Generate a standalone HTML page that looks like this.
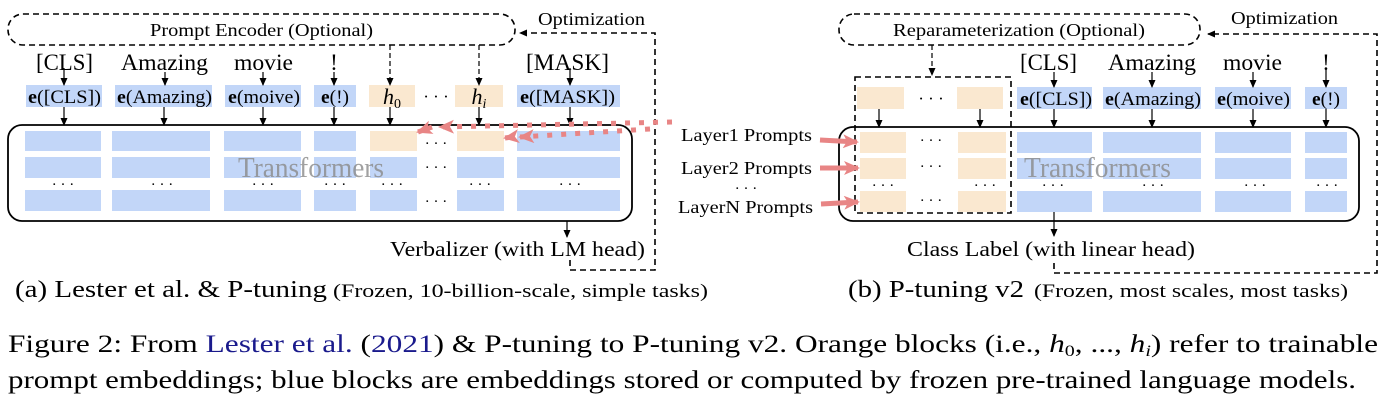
<!DOCTYPE html>
<html><head><meta charset="utf-8"><style>
html,body{margin:0;padding:0;background:#fff;}
svg{display:block;}
text{font-family:"Liberation Serif","Times New Roman",serif;fill:#000;}
</style></head><body>
<svg width="1388" height="400" viewBox="0 0 1388 400" xmlns="http://www.w3.org/2000/svg">
<defs>
<marker id="ah" markerWidth="8" markerHeight="8" refX="7" refY="4" orient="auto" markerUnits="userSpaceOnUse"><path d="M0,0.5 L8,4 L0,7.5 Z" fill="#000"/></marker>
<marker id="rh" markerWidth="16" markerHeight="14" refX="14" refY="7" orient="auto" markerUnits="userSpaceOnUse"><path d="M0,0 L16,7 L0,14 L4,7 Z" fill="#e88585"/></marker>
</defs>

<!-- ============ LEFT PANEL ============ -->
<rect x="8" y="14" width="507" height="31" rx="15" fill="none" stroke="#000" stroke-width="1.6" stroke-dasharray="6,4"/>
<text x="150" y="36" font-size="18" textLength="223" lengthAdjust="spacingAndGlyphs">Prompt Encoder (Optional)</text>
<text x="538" y="25" font-size="18" textLength="107" lengthAdjust="spacingAndGlyphs">Optimization</text>
<path d="M570,260 V270 H655 V33 H520" fill="none" stroke="#000" stroke-width="1.6" stroke-dasharray="6,4" marker-end="url(#ah)"/>

<g font-size="23">
<text x="36" y="70" textLength="57" lengthAdjust="spacingAndGlyphs">[CLS]</text>
<text x="121" y="70" textLength="87" lengthAdjust="spacingAndGlyphs">Amazing</text>
<text x="234" y="70" textLength="59" lengthAdjust="spacingAndGlyphs">movie</text>
<text x="334" y="70" text-anchor="middle">!</text>
<text x="526" y="70" textLength="83" lengthAdjust="spacingAndGlyphs">[MASK]</text>
</g>
<g fill="#c2d6f8">
<rect x="26" y="85" width="76" height="22"/>
<rect x="115" y="85" width="97" height="22"/>
<rect x="225" y="85" width="76" height="22"/>
<rect x="314" y="85" width="42" height="22"/>
<rect x="517" y="85" width="103" height="22"/>
</g>
<g fill="#fae8d0">
<rect x="369" y="85" width="46" height="22"/>
<rect x="455" y="85" width="48" height="22"/>
</g>
<g font-size="19">
<text x="28" y="103" textLength="73" lengthAdjust="spacingAndGlyphs"><tspan font-weight="bold">e</tspan>([CLS])</text>
<text x="117" y="103" textLength="95" lengthAdjust="spacingAndGlyphs"><tspan font-weight="bold">e</tspan>(Amazing)</text>
<text x="228" y="103" textLength="72" lengthAdjust="spacingAndGlyphs"><tspan font-weight="bold">e</tspan>(moive)</text>
<text x="321" y="103" textLength="28" lengthAdjust="spacingAndGlyphs"><tspan font-weight="bold">e</tspan>(!)</text>
<text x="520" y="103" textLength="95" lengthAdjust="spacingAndGlyphs"><tspan font-weight="bold">e</tspan>([MASK])</text>
</g>
<text x="392" y="104" font-size="22" font-style="italic" text-anchor="middle">h<tspan font-size="14" font-style="normal" dy="4">0</tspan></text>
<text x="436" y="102" font-size="17" text-anchor="middle">· · ·</text>
<text x="479" y="104" font-size="22" font-style="italic" text-anchor="middle">h<tspan font-size="14" dy="4">i</tspan></text>

<g stroke="#000" stroke-width="1.2" marker-end="url(#ah)">
<line x1="64" y1="68" x2="64" y2="85"/>
<line x1="165" y1="72" x2="165" y2="85"/>
<line x1="263" y1="72" x2="263" y2="85"/>
<line x1="334" y1="72" x2="334" y2="85"/>
<line x1="570" y1="68" x2="570" y2="85"/>
<line x1="64" y1="107" x2="64" y2="125"/>
<line x1="164" y1="107" x2="164" y2="125"/>
<line x1="263" y1="107" x2="263" y2="125"/>
<line x1="334" y1="107" x2="334" y2="125"/>
<line x1="390" y1="107" x2="390" y2="125"/>
<line x1="479" y1="107" x2="479" y2="125"/>
<line x1="570" y1="107" x2="570" y2="125"/>
<line x1="390" y1="45" x2="390" y2="85" stroke-dasharray="5,3"/>
<line x1="479" y1="45" x2="479" y2="85" stroke-dasharray="5,3"/>
</g>

<g fill="#c2d6f8">
<rect x="25" y="131" width="76" height="20"/><rect x="112" y="131" width="98" height="20"/><rect x="224" y="131" width="77" height="20"/><rect x="314" y="131" width="42" height="20"/><rect x="517" y="131" width="103" height="20"/>
<rect x="25" y="157" width="76" height="21"/><rect x="112" y="157" width="98" height="21"/><rect x="224" y="157" width="77" height="21"/><rect x="314" y="157" width="42" height="21"/><rect x="370" y="157" width="47" height="21"/><rect x="457" y="157" width="47" height="21"/><rect x="517" y="157" width="103" height="21"/>
<rect x="25" y="190" width="76" height="21"/><rect x="112" y="190" width="98" height="21"/><rect x="224" y="190" width="77" height="21"/><rect x="314" y="190" width="42" height="21"/><rect x="370" y="190" width="47" height="21"/><rect x="457" y="190" width="47" height="21"/><rect x="517" y="190" width="103" height="21"/>
</g>
<g fill="#fae8d0"><rect x="370" y="131" width="47" height="20"/><rect x="457" y="131" width="47" height="20"/></g>
<g font-size="15" text-anchor="middle">
<text x="63" y="189">· · ·</text><text x="162" y="189">· · ·</text><text x="263" y="189">· · ·</text><text x="335" y="189">· · ·</text><text x="392" y="189">· · ·</text><text x="480" y="189">· · ·</text><text x="570" y="189">· · ·</text>
<text x="436" y="148">· · ·</text><text x="436" y="172">· · ·</text><text x="436" y="206">· · ·</text>
</g>
<text x="238" y="177" font-size="28" textLength="146" lengthAdjust="spacingAndGlyphs" style="fill:#8a8a8a;opacity:0.8">Transformers</text>
<rect x="8" y="125" width="624" height="96" rx="14" fill="none" stroke="#000" stroke-width="1.8"/>
<line x1="567" y1="221" x2="567" y2="237" stroke="#000" stroke-width="1.2" marker-end="url(#ah)"/>
<text x="390" y="256" font-size="21" textLength="255" lengthAdjust="spacingAndGlyphs">Verbalizer (with LM head)</text>
<text x="15" y="297" font-size="24" textLength="312" lengthAdjust="spacingAndGlyphs">(a) Lester et al. &amp; P-tuning</text>
<text x="333" y="297" font-size="19" textLength="375" lengthAdjust="spacingAndGlyphs">(Frozen, 10-billion-scale, simple tasks)</text>

<g fill="none" stroke="#e88585" stroke-width="5" stroke-dasharray="5,9">
<path d="M672,122 L440,127" marker-end="url(#rh)"/>
<path d="M650,129 L520,137" marker-end="url(#rh)"/>
</g>
<path d="M432,127 L418,132" stroke="#e88585" stroke-width="5" marker-end="url(#rh)"/>
<path d="M512,137 L505,138" stroke="#e88585" stroke-width="5" marker-end="url(#rh)"/>

<!-- ============ RIGHT PANEL ============ -->
<rect x="839" y="14" width="361" height="31" rx="15" fill="none" stroke="#000" stroke-width="1.6" stroke-dasharray="6,4"/>
<text x="893" y="36" font-size="18" textLength="252" lengthAdjust="spacingAndGlyphs">Reparameterization (Optional)</text>
<text x="1231" y="24" font-size="18" textLength="107" lengthAdjust="spacingAndGlyphs">Optimization</text>
<path d="M1054,263 V273 H1377 V34 H1208" fill="none" stroke="#000" stroke-width="1.6" stroke-dasharray="6,4" marker-end="url(#ah)"/>
<line x1="932" y1="45" x2="932" y2="75" stroke="#000" stroke-width="1.2" stroke-dasharray="5,3" marker-end="url(#ah)"/>

<g font-size="23">
<text x="1020" y="70" textLength="57" lengthAdjust="spacingAndGlyphs">[CLS]</text>
<text x="1108" y="70" textLength="88" lengthAdjust="spacingAndGlyphs">Amazing</text>
<text x="1223" y="70" textLength="59" lengthAdjust="spacingAndGlyphs">movie</text>
<text x="1326" y="70" text-anchor="middle">!</text>
</g>
<g fill="#c2d6f8">
<rect x="1017" y="87" width="75" height="22"/><rect x="1103" y="87" width="98" height="22"/><rect x="1215" y="87" width="76" height="22"/><rect x="1305" y="87" width="42" height="22"/>
</g>
<g fill="#fae8d0"><rect x="857" y="87" width="47" height="22"/><rect x="957" y="87" width="46" height="22"/></g>
<text x="931" y="104" font-size="17" text-anchor="middle">· · ·</text>
<g font-size="19">
<text x="1020" y="105" textLength="72" lengthAdjust="spacingAndGlyphs"><tspan font-weight="bold">e</tspan>([CLS])</text>
<text x="1105" y="105" textLength="96" lengthAdjust="spacingAndGlyphs"><tspan font-weight="bold">e</tspan>(Amazing)</text>
<text x="1217" y="105" textLength="73" lengthAdjust="spacingAndGlyphs"><tspan font-weight="bold">e</tspan>(moive)</text>
<text x="1312" y="105" textLength="28" lengthAdjust="spacingAndGlyphs"><tspan font-weight="bold">e</tspan>(!)</text>
</g>
<g stroke="#000" stroke-width="1.2" marker-end="url(#ah)">
<line x1="1054" y1="72" x2="1054" y2="87"/><line x1="1152" y1="72" x2="1152" y2="87"/><line x1="1253" y1="72" x2="1253" y2="87"/><line x1="1326" y1="68" x2="1326" y2="87"/>
<line x1="879" y1="109" x2="879" y2="127"/><line x1="980" y1="109" x2="980" y2="127"/>
<line x1="1054" y1="109" x2="1054" y2="127"/><line x1="1152" y1="109" x2="1152" y2="127"/><line x1="1253" y1="109" x2="1253" y2="127"/><line x1="1326" y1="109" x2="1326" y2="127"/>
</g>

<g fill="#c2d6f8">
<rect x="1017" y="132" width="75" height="21"/><rect x="1103" y="132" width="98" height="21"/><rect x="1215" y="132" width="76" height="21"/><rect x="1305" y="132" width="42" height="21"/>
<rect x="1017" y="158" width="75" height="21"/><rect x="1103" y="158" width="98" height="21"/><rect x="1215" y="158" width="76" height="21"/><rect x="1305" y="158" width="42" height="21"/>
<rect x="1017" y="191" width="75" height="21"/><rect x="1103" y="191" width="98" height="21"/><rect x="1215" y="191" width="76" height="21"/><rect x="1305" y="191" width="42" height="21"/>
</g>
<g fill="#fae8d0">
<rect x="860" y="132" width="46" height="21"/><rect x="958" y="132" width="48" height="21"/>
<rect x="860" y="158" width="46" height="21"/><rect x="958" y="158" width="48" height="21"/>
<rect x="860" y="191" width="46" height="21"/><rect x="958" y="191" width="48" height="21"/>
</g>
<g font-size="15" text-anchor="middle">
<text x="931" y="145">· · ·</text><text x="931" y="171">· · ·</text><text x="931" y="205">· · ·</text>
<text x="883" y="190">· · ·</text><text x="985" y="190">· · ·</text>
<text x="1053" y="190">· · ·</text><text x="1153" y="190">· · ·</text><text x="1255" y="190">· · ·</text><text x="1327" y="190">· · ·</text>
</g>
<text x="1024" y="177" font-size="28" textLength="147" lengthAdjust="spacingAndGlyphs" style="fill:#8a8a8a;opacity:0.8">Transformers</text>
<rect x="855" y="77" width="156" height="136" fill="none" stroke="#000" stroke-width="1.6" stroke-dasharray="6,4"/>
<rect x="839" y="127" width="520" height="94" rx="14" fill="none" stroke="#000" stroke-width="1.8"/>
<line x1="1054" y1="212" x2="1054" y2="236" stroke="#000" stroke-width="1.2" marker-end="url(#ah)"/>
<text x="907" y="256" font-size="21" textLength="288" lengthAdjust="spacingAndGlyphs">Class Label (with linear head)</text>

<g font-size="18">
<text x="681" y="141" textLength="131" lengthAdjust="spacingAndGlyphs">Layer1 Prompts</text>
<text x="681" y="174" textLength="131" lengthAdjust="spacingAndGlyphs">Layer2 Prompts</text>
<text x="678" y="213" textLength="135" lengthAdjust="spacingAndGlyphs">LayerN Prompts</text>
</g>
<text x="746" y="193" font-size="15" text-anchor="middle">· · ·</text>
<g stroke="#e88585" stroke-width="5" marker-end="url(#rh)">
<line x1="820" y1="140" x2="857" y2="142"/>
<line x1="820" y1="168" x2="858" y2="168"/>
<line x1="821" y1="204" x2="858" y2="202"/>
</g>
<text x="848" y="297" font-size="24" textLength="176" lengthAdjust="spacingAndGlyphs">(b) P-tuning v2</text>
<text x="1034" y="297" font-size="19" textLength="314" lengthAdjust="spacingAndGlyphs">(Frozen, most scales, most tasks)</text>

<text x="8" y="352" font-size="25" textLength="1370" lengthAdjust="spacingAndGlyphs">Figure 2: From <tspan style="fill:#1a1a8c">Lester et al.</tspan> (<tspan style="fill:#1a1a8c">2021</tspan>) &amp; P-tuning to P-tuning v2. Orange blocks (i.e., <tspan font-style="italic">h</tspan><tspan font-size="16" dy="4">0</tspan><tspan dy="-4">, ..., </tspan><tspan font-style="italic">h</tspan><tspan font-size="16" font-style="italic" dy="4">i</tspan><tspan dy="-4">) refer to trainable</tspan></text>
<text x="8" y="388" font-size="25" textLength="1348" lengthAdjust="spacingAndGlyphs">prompt embeddings; blue blocks are embeddings stored or computed by frozen pre-trained language models.</text>
</svg>
</body></html>
